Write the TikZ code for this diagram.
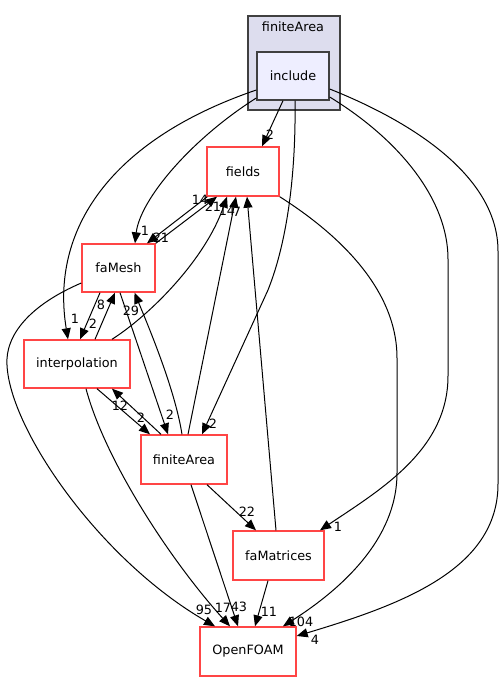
\documentclass[tikz,border=0pt]{standalone}
\usepackage{fontspec}
\setmainfont{DejaVu Sans}
\usetikzlibrary{arrows.meta}
\definecolor{nred}{HTML}{FF4545}
\definecolor{clfill}{HTML}{DDDDEE}
\definecolor{incfill}{HTML}{EEEEFF}
\definecolor{bord}{HTML}{404040}
\begin{document}
\begin{tikzpicture}[x=1pt,y=-1pt,
  dirbox/.style={draw=nred,line width=1.4pt,fill=white,inner sep=0pt,font=\fontsize{12.8}{15}\selectfont},
  e/.style={draw=black,line width=1pt,-{Triangle[length=11pt,width=9pt]}},
  lbl/.style={inner sep=0pt,font=\fontsize{12.8}{15}\selectfont}]
\useasboundingbox (0,0) rectangle (501,681);
% cluster
\node[draw=bord,line width=1.2pt,fill=clfill,minimum width=92pt,minimum height=94pt,inner sep=0pt] (cl) at (294,63) {};
\node[lbl] (cltitle) at (293,27) {finiteArea};
\node[draw=bord,line width=1.4pt,fill=incfill,minimum width=72pt,minimum height=48pt,inner sep=0pt,font=\fontsize{12.8}{15}\selectfont] (include) at (293,76) {include};
% nodes
\node[dirbox,minimum width=72pt,minimum height=49pt] (fields) at (243,171.5) {fields};
\node[dirbox,minimum width=73pt,minimum height=48pt] (faMesh) at (118.5,268) {faMesh};
\node[dirbox,minimum width=106pt,minimum height=48pt] (interp) at (77,364) {interpolation};
\node[dirbox,minimum width=86pt,minimum height=49pt] (finiteArea) at (184,459.5) {finiteArea};
\node[dirbox,minimum width=91pt,minimum height=49pt] (faMatrices) at (278.5,555.5) {faMatrices};
\node[dirbox,minimum width=96pt,minimum height=49pt] (OpenFOAM) at (248,651.5) {OpenFOAM};
% edges from include
\draw[e] ([xshift=-10]include.south) -- ([xshift=19]fields.north);
\draw[e] ([yshift=-22]include.west) .. controls (190,140) and (140,200) .. ([xshift=16.5]faMesh.north);
\draw[e] ([yshift=-14]include.west) .. controls (110,140) and (50,230) .. ([xshift=-9]interp.north);
\draw[e] ([xshift=2]include.south) .. controls (296,170) and (288,240) .. (268,290) -- ([xshift=18]finiteArea.north);
\draw[e] ([yshift=-21]include.east) .. controls (400,140) and (448,200) .. (448,259) -- (448,376) .. controls (448,450) and (380,490) .. ([xshift=41.5]faMatrices.north);
\draw[e] ([yshift=-13]include.east) .. controls (420,125) and (498,180) .. (498,251) -- (498,484) .. controls (498,570) and (400,605) .. ([yshift=15.5]OpenFOAM.east);
% fields
\draw[e] (fields.south east) .. controls (340,235) and (397,290) .. (397,358) -- (397,473) .. controls (397,540) and (340,590) .. ([xshift=35]OpenFOAM.north);
\draw[e] ([xshift=1]fields.south west) -- ([xshift=28.5]faMesh.north);
% into fields
\draw[e] (faMesh.north east) -- ([xshift=-26]fields.south);
\draw[e] ([xshift=35]interp.north) .. controls (150,315) and (205,260) .. ([xshift=-16]fields.south);
\draw[e] ([xshift=4]finiteArea.north) -- ([xshift=-7]fields.south);
\draw[e] ([xshift=-2.5]faMatrices.north) -- ([xshift=4]fields.south);
% faMesh / interpolation
\draw[e] ([xshift=-18.5]faMesh.south) -- ([xshift=3]interp.north);
\draw[e] ([xshift=18]interp.north) -- ([xshift=-3.5]faMesh.south);
\draw[e] ([xshift=1.5]faMesh.south) -- ([xshift=-16]finiteArea.north);
\draw[e] ([xshift=-2]finiteArea.north) .. controls (175,390) and (150,330) .. ([xshift=16]faMesh.south);
\draw[e] ([xshift=20]interp.south) -- ([xshift=-34]finiteArea.north);
\draw[e] ([xshift=-23]finiteArea.north) -- ([xshift=35]interp.south);
% lower
\draw[e] ([xshift=23]finiteArea.south) -- ([xshift=-22.5]faMatrices.north);
\draw[e] ([xshift=7]finiteArea.south) -- ([xshift=-10]OpenFOAM.north);
\draw[e] ([xshift=9]interp.south) .. controls (105,460) and (170,560) .. ([xshift=-18]OpenFOAM.north);
\draw[e] ([yshift=-15]faMesh.west) .. controls (30,305) and (5,335) .. (7,365) .. controls (10,430) and (100,560) .. ([xshift=-33]OpenFOAM.north);
\draw[e] ([xshift=-10.5]faMatrices.south) -- ([xshift=7]OpenFOAM.north);
% labels
\node[lbl] (l1) at (270,135) {2};
\node[lbl] (l2) at (145,231) {1};
\node[lbl] (l3) at (161,238) {21};
\node[lbl] (l4) at (200,200) {14};
\node[lbl] (l5) at (213,207) {21};
\node[lbl] (l6) at (227,211) {14};
\node[lbl] (l7) at (237,212) {7};
\node[lbl] (l8) at (75,319) {1};
\node[lbl] (l9) at (93,324) {2};
\node[lbl] (l10) at (101,305) {8};
\node[lbl] (l11) at (131,311) {29};
\node[lbl] (l12) at (120,406) {12};
\node[lbl] (l13) at (141,418) {2};
\node[lbl] (l14) at (170,415) {2};
\node[lbl] (l15) at (213,424) {2};
\node[lbl] (l16) at (247,512) {22};
\node[lbl] (l17) at (338,527) {1};
\node[lbl] (l18) at (204,610) {95};
\node[lbl] (l19) at (223,608) {17};
\node[lbl] (l20) at (239,607) {43};
\node[lbl] (l21) at (269,612) {11};
\node[lbl] (l22) at (301,622) {104};
\node[lbl] (l23) at (315,640) {4};
\end{tikzpicture}
\end{document}
